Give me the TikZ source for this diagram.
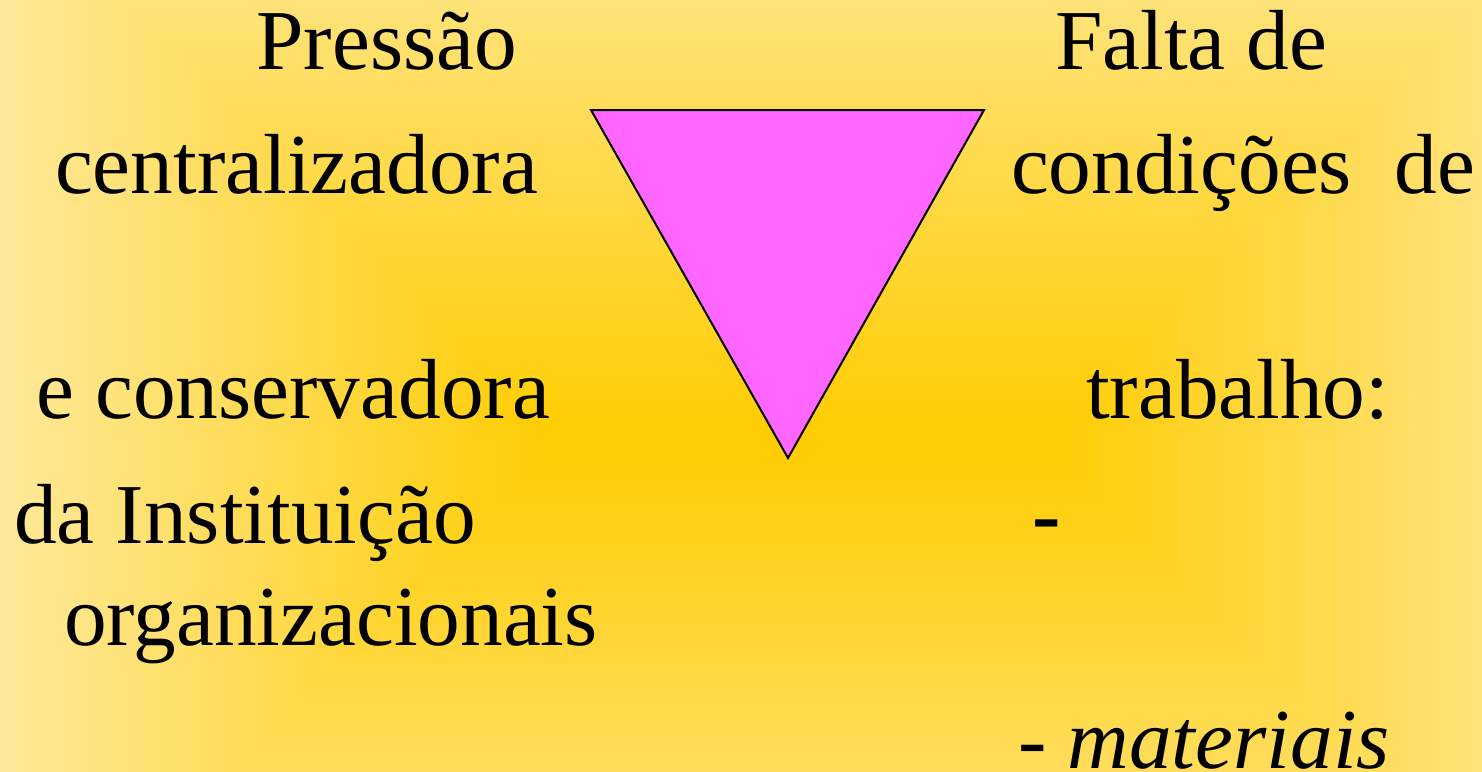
\documentclass[tikz,border=0pt]{standalone}
\usepackage{fontspec}
\setmainfont{Liberation Serif}
\definecolor{bgcenter}{HTML}{FFCC00}
\definecolor{bgedge}{HTML}{FFE99A}
\definecolor{tri}{HTML}{FF66FF}
\newcommand\bigsz{\fontsize{85.3pt}{85.3pt}\selectfont}
\begin{document}
\begin{tikzpicture}[x=1pt,y=-1pt,
  txt/.style={anchor=base west, inner sep=0pt, outer sep=0pt, text=black, font=\bigsz}]
\useasboundingbox (0,0) rectangle (1482,771);
\begin{scope}
\clip (0,0) rectangle (1482,771);
\foreach \d in {560,556,...,0} {
  \pgfmathsetmacro\p{\d/5.6}
  \fill[bgedge!\p!bgcenter] ({560-\d},{440-\d}) rectangle ({1043+\d},{440+\d});
}
\end{scope}
\coordinate (tl) at (591,110);
\coordinate (tr) at (984,110);
\coordinate (bt) at (788,458);
\draw[fill=tri, line width=2pt, line join=miter] (tl) -- (tr) -- (bt) -- cycle;
\node[txt] (p1) at (256.5,69) {Pressão};
\node[txt] (p2) at (55,193) {centralizadora};
\node[txt] (p3) at (36,418) {e conservadora};
\node[txt] (p4) at (14,543) {da Instituição};
\node[txt] (p5) at (64,645) {organizacionais};
\node[txt] (q1) at (1055,69) {Falta de};
\node[txt] (q2) at (1011,193) {condições\ \ de};
\node[txt] (q3) at (1086,418) {trabalho:};
\node[txt, font=\bigsz\bfseries] (q4) at (1032,543) {-};
\node[txt, font=\bigsz\itshape] (q5) at (1018,768) {- materiais};
\end{tikzpicture}
\end{document}
